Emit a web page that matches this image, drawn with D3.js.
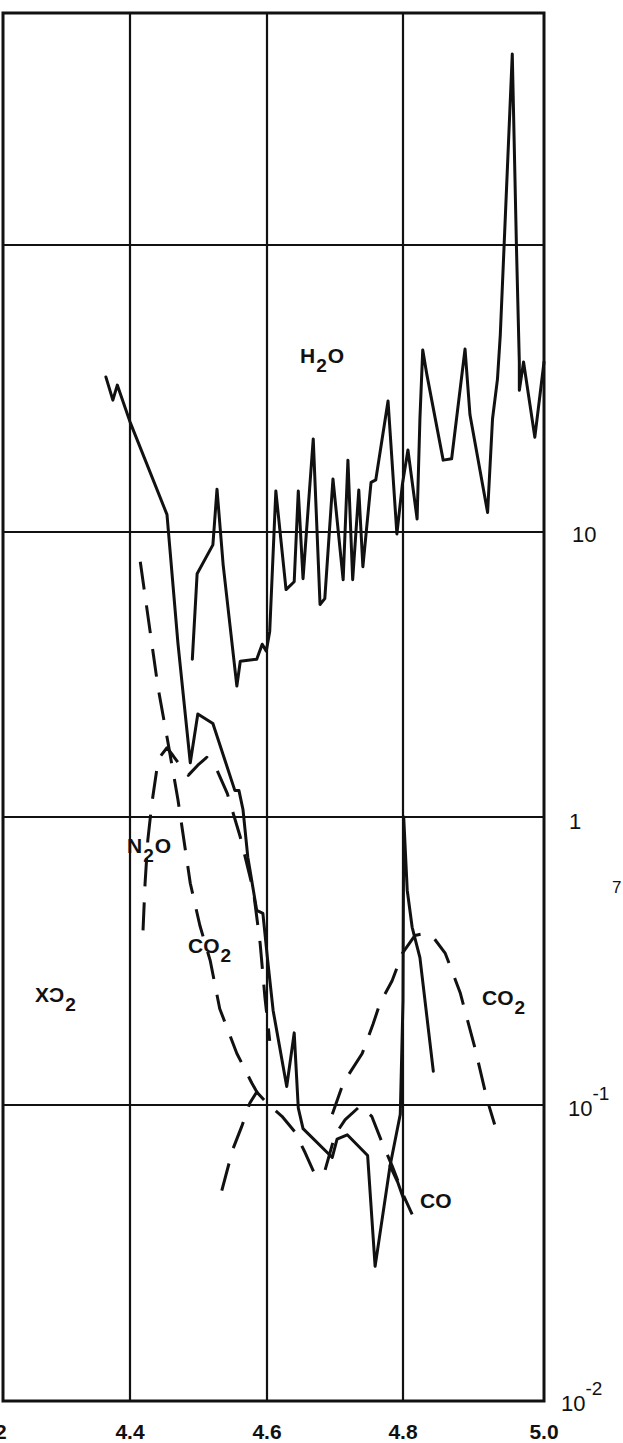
<!DOCTYPE html>
<html><head><meta charset="utf-8">
<script src="https://cdn.jsdelivr.net/npm/d3@7"></script>
<style>body{margin:0;background:#fff}svg{display:block}</style>
</head><body>
<svg id="c" width="623" height="1443"></svg>
<script>
// ---- data ----
const xTicks = [4.2, 4.4, 4.6, 4.8, 5.0];
const xTickLabels = ["4.2", "4.4", "4.6", "4.8", "5.0"];
const yDecades = [0.01, 0.1, 1, 10, 100];
const yGridValues = [100, 10, 1, 0.1];
const yTickValues = [10, 1, 0.1, 0.01];
const yTickBase = ["10", "1", "10", "10"];
const yTickExp = ["", "", "-1", "-2"];

// solid: H2O start, falling through the N2O/CO2 region to the 4.8 spike
const solidMain = [[4.362,34.7],[4.373,28.8],[4.380,32.5],[4.400,24.2],[4.454,11.5],[4.470,4.07],[4.488,1.55],[4.499,2.30],[4.521,2.13],[4.553,1.24],[4.559,1.24],[4.565,1.06],[4.572,0.725],[4.585,0.474],[4.594,0.463],[4.601,0.318],[4.609,0.213],[4.629,0.116],[4.640,0.178],[4.646,0.0977],[4.653,0.0832],[4.696,0.0665],[4.703,0.0767],[4.718,0.0793],[4.748,0.0675],[4.759,0.0285],[4.781,0.0623],[4.796,0.0930],[4.800,0.230],[4.801,1.0],[4.806,0.557],[4.813,0.414],[4.824,0.325],[4.843,0.131]];
// solid: CO end
const solidCO = [[4.781,0.0623],[4.792,0.055],[4.801,0.048]];
// solid: H2O jagged
const solidH2O = [[4.491,3.58],[4.498,7.14],[4.521,9.01],[4.527,14.1],[4.536,7.67],[4.556,2.88],[4.561,3.52],[4.585,3.58],[4.593,4.04],[4.599,3.82],[4.604,4.48],[4.613,13.9],[4.628,6.28],[4.640,6.69],[4.646,13.9],[4.653,6.86],[4.668,21.1],[4.678,5.57],[4.685,5.84],[4.697,15.3],[4.712,6.80],[4.719,17.8],[4.726,6.80],[4.735,14.0],[4.741,7.55],[4.753,14.9],[4.760,15.2],[4.778,28.6],[4.791,9.84],[4.799,14.6],[4.807,19.3],[4.820,11.1],[4.824,24.8],[4.828,43.1],[4.834,35.2],[4.857,17.8],[4.869,18.0],[4.888,43.4],[4.895,25.6],[4.920,11.7],[4.927,24.8],[4.934,34.1],[4.938,48.6],[4.955,463],[4.961,96.8],[4.965,39.1],[4.965,31.2],[4.971,39.1],[4.987,21.4],[5.000,39.1]];
// dashed: CO2 (4.3 band wing)
const dashCO2a = [[4.415,7.86],[4.441,2.84],[4.455,1.85],[4.470,1.15],[4.488,0.589],[4.502,0.420],[4.517,0.318],[4.531,0.216],[4.556,0.151],[4.578,0.119],[4.587,0.109]];
// dashed: N2O
const dashN2O = [[4.419,0.404],[4.422,0.589],[4.426,0.831],[4.432,1.12],[4.439,1.46],[4.445,1.64],[4.454,1.75],[4.463,1.64],[4.473,1.52],[4.485,1.40],[4.499,1.52],[4.512,1.62],[4.527,1.46],[4.542,1.21],[4.561,0.852],[4.580,0.557],[4.590,0.364],[4.597,0.236],[4.604,0.167]];
// dashed: CO
const dashCO = [[4.534,0.0514],[4.550,0.0708],[4.563,0.0845],[4.575,0.1016],[4.585,0.111],[4.601,0.1008],[4.622,0.0916],[4.641,0.0811],[4.656,0.0691],[4.671,0.0579],[4.685,0.0598],[4.700,0.0792],[4.715,0.0893],[4.737,0.0992],[4.754,0.0916],[4.769,0.0749],[4.784,0.0623],[4.801,0.0493],[4.813,0.0427]];
// dashed: CO2 (4.8 band)
const dashCO2b = [[4.696,0.093],[4.712,0.119],[4.740,0.151],[4.756,0.191],[4.766,0.225],[4.784,0.270],[4.799,0.336],[4.817,0.388],[4.831,0.394],[4.843,0.382],[4.860,0.336],[4.881,0.246],[4.902,0.158],[4.919,0.105],[4.930,0.0859]];

// ---- chart ----
const svg = d3.select("#c");
const x = d3.scaleLinear().domain(xTicks).range([3, 130, 267, 403, 544]);
const y = d3.scaleLog().domain(yDecades).range([1401, 1105, 817, 532, 245]);
const frameTop = 13;
const ink = "#111";

// grid
svg.append("g").selectAll("line").data(xTicks.slice(1, 4)).join("line")
  .attr("x1", d => x(d)).attr("x2", d => x(d)).attr("y1", frameTop).attr("y2", y(0.01))
  .attr("stroke", ink).attr("stroke-width", 2.2);
svg.append("g").selectAll("line").data(yGridValues).join("line")
  .attr("x1", x(4.2)).attr("x2", x(5.0)).attr("y1", d => y(d)).attr("y2", d => y(d))
  .attr("stroke", ink).attr("stroke-width", 2.2);
// frame
svg.append("rect").attr("x", x(4.2)).attr("y", frameTop)
  .attr("width", x(5.0) - x(4.2)).attr("height", y(0.01) - frameTop)
  .attr("fill", "none").attr("stroke", ink).attr("stroke-width", 3);

const line = d3.line().x(d => x(d[0])).y(d => y(d[1]));
const g = svg.append("g").attr("fill", "none").attr("stroke", ink)
  .attr("stroke-width", 3).attr("stroke-linejoin", "round").attr("stroke-linecap", "round");
[solidMain, solidCO, solidH2O].forEach(s => g.append("path").attr("d", line(s)));
[dashCO2a, dashN2O, dashCO, dashCO2b].forEach(s =>
  g.append("path").attr("d", line(s)).attr("stroke-dasharray", "28,16").attr("stroke-linecap", "butt"));

// text
const font = "'Liberation Sans', Arial, sans-serif";
const T = svg.append("g").attr("font-family", font).attr("font-weight", "bold").attr("fill", ink);
T.selectAll("text.xt").data(xTicks).join("text").attr("class", "xt")
  .attr("x", (d, i) => x(d) - (i === 0 ? 11 : 0)).attr("y", 1439).attr("text-anchor", "middle")
  .attr("font-size", 21).text((d, i) => xTickLabels[i]);
const yLabelX = [572, 569, 568, 561];
const yLabelDy = [10, 12, 11, 10];
yTickValues.forEach((v, i) => {
  const t = T.append("text").attr("x", yLabelX[i])
    .attr("y", y(v) + yLabelDy[i]).attr("font-size", 22).attr("font-weight", "normal");
  t.append("tspan").text(yTickBase[i]);
  if (yTickExp[i]) t.append("tspan").attr("dy", -16).attr("font-size", 19).text(yTickExp[i]);
});
// partial rotated axis-title glyph at right edge
T.append("text").attr("x", 612).attr("y", 893).attr("font-size", 17).attr("font-weight", "normal").text("7");
function chem(xp, yp, a, b, c) {
  const t = T.append("text").attr("x", xp).attr("y", yp).attr("font-size", 21);
  t.append("tspan").text(a);
  t.append("tspan").attr("dy", 9).attr("dx", 1).attr("font-size", 19).text(b);
  if (c) t.append("tspan").attr("dy", -9).attr("dx", 1).text(c);
}
chem(300, 363, "H", "2", "O");
chem(127, 853, "N", "2", "O");
chem(188, 953, "CO", "2", "");
chem(35, 1002, "X\u0186", "2", "");
chem(482, 1005, "CO", "2", "");
T.append("text").attr("x", 420).attr("y", 1208).attr("font-size", 21).text("CO");
</script>
</body></html>
